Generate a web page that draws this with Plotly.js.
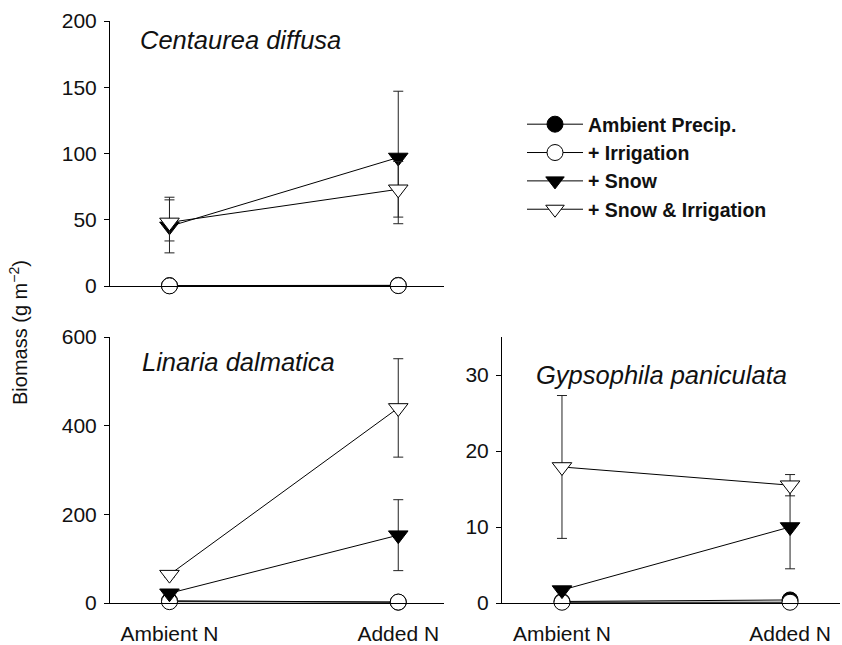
<!DOCTYPE html>
<html>
<head>
<meta charset="utf-8">
<script src="https://cdn.plot.ly/plotly-3.0.1.min.js"></script>
<style>html,body{margin:0;padding:0;background:#fff}#chart{width:842px;height:645px}</style>
</head>
<body>
<div id="chart"></div>
<script>
// ---- data ----
const categories = ['Ambient N', 'Added N'];
const seriesNames = ['Ambient Precip.', '+ Irrigation', '+ Snow', '+ Snow & Irrigation'];
const panelTitles = ['Centaurea diffusa', 'Linaria dalmatica', 'Gypsophila paniculata'];

// Centaurea diffusa
const cdAmbient = [0.3, 0.5];
const cdIrrig = [0.1, 0.3];
const cdSnow = [45, 97];
const cdSnowErrPlus = [20, 50];
const cdSnowErrMinus = [20, 50];
const cdSnowIrr = [48, 73];
const cdSnowIrrErrPlus = [19, 21];
const cdSnowIrrErrMinus = [14, 21];

// Linaria dalmatica
const ldAmbient = [5, 2];
const ldIrrig = [3, 2];
const ldSnow = [22, 153];
const ldSnowErr = [4, 80];
const ldSnowIrr = [64, 440];
const ldSnowIrrErr = [6, 111];

// Gypsophila paniculata
const gpAmbient = [0.2, 0.4];
const gpIrrig = [0.1, 0.1];
const gpSnow = [1.7, 10.0];
const gpSnowErr = [0.3, 5.5];
const gpSnowIrr = [17.9, 15.5];
const gpSnowIrrErr = [9.4, 1.4];

// ---- styling ----
const FONT = 'Liberation Sans, Arial, Helvetica, sans-serif';
const symbols = ['circle', 'circle', 'triangle-down', 'triangle-down'];
const fills = ['#000', '#fff', '#000', '#fff'];
const sizes = [16, 16, 17, 17];

function mk(panel, idx, y, plus, minus, showLegend) {
  const axSuffix = panel === 0 ? '' : String(panel + 1);
  const t = {
    type: 'scatter', mode: 'lines+markers',
    x: categories, y: y,
    name: seriesNames[idx],
    legendgroup: 'g' + idx,
    showlegend: showLegend,
    xaxis: 'x' + axSuffix, yaxis: 'y' + axSuffix,
    cliponaxis: false,
    line: {color: '#000', width: 1},
    marker: {symbol: symbols[idx], size: sizes[idx], color: fills[idx], line: {color: '#000', width: 1}},
    hoverinfo: 'skip'
  };
  if (plus) {
    t.error_y = {type: 'data', symmetric: false, array: plus, arrayminus: minus || plus,
                 color: '#222', thickness: 1, width: 5};
  }
  return t;
}

const data = [
  mk(0, 0, cdAmbient, null, null, true),
  mk(0, 1, cdIrrig, null, null, true),
  mk(0, 2, cdSnow, cdSnowErrPlus, cdSnowErrMinus, true),
  mk(0, 3, cdSnowIrr, cdSnowIrrErrPlus, cdSnowIrrErrMinus, true),
  mk(1, 0, ldAmbient, null, null, false),
  mk(1, 1, ldIrrig, null, null, false),
  mk(1, 2, ldSnow, ldSnowErr, ldSnowErr, false),
  mk(1, 3, ldSnowIrr, ldSnowIrrErr, ldSnowIrrErr, false),
  mk(2, 0, gpAmbient, null, null, false),
  mk(2, 1, gpIrrig, null, null, false),
  mk(2, 2, gpSnow, gpSnowErr, gpSnowErr, false),
  mk(2, 3, gpSnowIrr, gpSnowIrrErr, gpSnowIrrErr, false)
];

const tickFont = {family: FONT, size: 21, color: '#111'};

function xax(domain, range, showLabels, anchor) {
  return {
    domain: domain, range: range, type: 'category', anchor: anchor,
    showline: true, linecolor: '#000', linewidth: 1,
    showgrid: false, zeroline: false,
    ticks: showLabels ? 'outside' : '', ticklen: 12, tickcolor: 'rgba(0,0,0,0)',
    showticklabels: showLabels, tickfont: tickFont, fixedrange: true
  };
}
function yax(domain, range, dtick, anchor) {
  return {
    domain: domain, range: range, anchor: anchor,
    showline: true, linecolor: '#000', linewidth: 1,
    showgrid: false, zeroline: false,
    ticks: 'outside', ticklen: 5, tickcolor: '#000', tickwidth: 1,
    ticklabelstandoff: 3,
    tick0: 0, dtick: dtick, tickfont: tickFont, fixedrange: true
  };
}

const leftX = [110 / 842, 444 / 842];
const rightX = [502 / 842, 840 / 842];
const topY = [(645 - 286) / 645, (645 - 21) / 645];
const botY = [(645 - 603) / 645, (645 - 337) / 645];

const titleFont = {family: FONT, size: 25.5, style: 'italic', color: '#111'};

const layout = {
  width: 842, height: 645,
  margin: {l: 0, r: 0, t: 0, b: 0},
  paper_bgcolor: '#fff', plot_bgcolor: 'rgba(0,0,0,0)',
  font: {family: FONT, color: '#111'},
  showlegend: true,
  xaxis: xax(leftX, [-0.26, 1.2], false, 'y'),
  yaxis: yax(topY, [0, 200], 50, 'x'),
  xaxis2: xax(leftX, [-0.26, 1.2], true, 'y2'),
  yaxis2: yax(botY, [0, 600], 200, 'x2'),
  xaxis3: xax(rightX, [-0.263, 1.219], true, 'y3'),
  yaxis3: yax(botY, [0, 35], 10, 'x3'),
  legend: {
    x: 522 / 842, y: 1 - 105 / 645, xanchor: 'left', yanchor: 'top',
    bgcolor: 'rgba(0,0,0,0)', borderwidth: 0,
    font: {family: FONT, size: 19.5, weight: 'bold', color: '#111'},
    traceorder: 'normal', itemwidth: 56
  },
  annotations: [
    {text: panelTitles[0], xref: 'paper', yref: 'paper', x: 138 / 842, y: 1 - 40 / 645,
     xanchor: 'left', yanchor: 'middle', showarrow: false, font: titleFont},
    {text: panelTitles[1], xref: 'paper', yref: 'paper', x: 140 / 842, y: 1 - 362 / 645,
     xanchor: 'left', yanchor: 'middle', showarrow: false, font: titleFont},
    {text: panelTitles[2], xref: 'paper', yref: 'paper', x: 534 / 842, y: 1 - 375 / 645,
     xanchor: 'left', yanchor: 'middle', showarrow: false, font: titleFont},
    {text: 'Biomass (g m<sup>\u22122</sup>)', xref: 'paper', yref: 'paper', x: 18 / 842, y: 1 - 333 / 645,
     xanchor: 'center', yanchor: 'middle', textangle: -90, showarrow: false,
     font: {family: FONT, size: 20, color: '#111'}}
  ]
};

Plotly.newPlot('chart', data, layout, {staticPlot: true, displayModeBar: false});
</script>
</body>
</html>
